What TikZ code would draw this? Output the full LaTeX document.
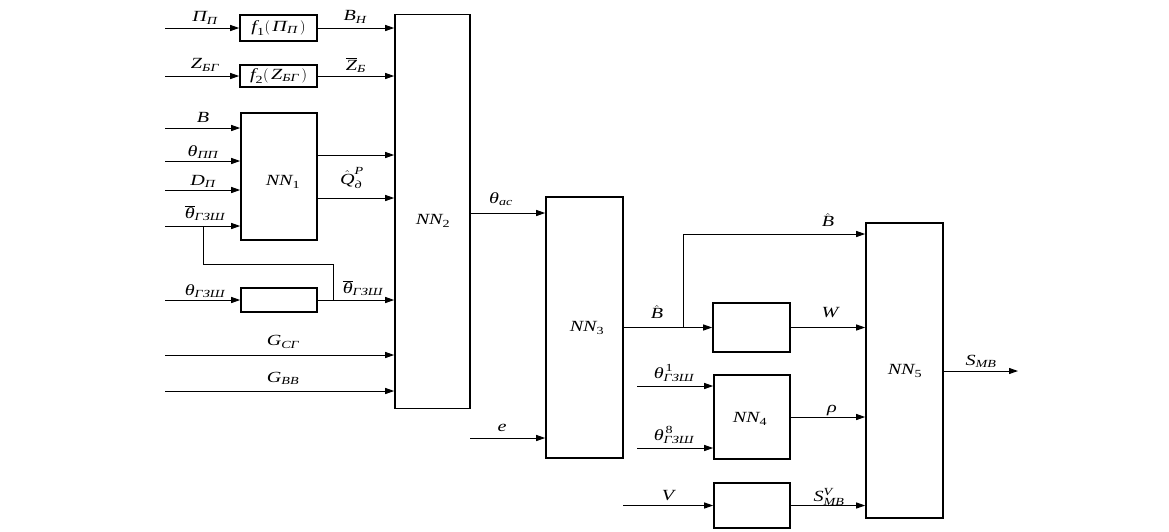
\documentclass[tikz,border=0pt]{standalone}
\usepackage{amsmath}
\usepackage{fontspec}
\setmainfont[FakeStretch=1.3]{Liberation Serif}
\usetikzlibrary{arrows.meta}
\newcommand{\ti}[1]{\textit{#1}}
\newcommand{\tu}[1]{\textup{#1}}
\newcommand{\lblfont}{\fontsize{15.5}{18}\selectfont}
\begin{document}
\begin{tikzpicture}[x=1pt,y=-1pt,
  blk/.style={draw,line width=1.6pt,inner sep=0pt,font=\lblfont},
  arr/.style={line width=1pt,-{Triangle[length=9pt,width=6pt]}},
  wire/.style={line width=1pt},
  lab/.style={font=\lblfont,inner sep=0pt}]
\useasboundingbox (0,0) rectangle (1169,531);
% blocks
\node[blk,minimum width=77pt,minimum height=26pt] (f1) at (278.5,28) {$\ti{f}_{\tu{1}}(\,\ti{П}_{\ti{П}}\,)$};
\node[blk,minimum width=77pt,minimum height=22pt] (f2) at (278.5,76) {$\ti{f}_{\tu{2}}(\,\ti{Z}_{\ti{БГ}}\,)$};
\node[blk,minimum width=76pt,minimum height=127pt] (nn1) at (279,176.5) {};
\node[lab] (nn1lab) at (283,182) {$\ti{NN}_{\tu{1}}$};
\node[blk,minimum width=76pt,minimum height=24pt] (g) at (279,300) {};
\node[blk,minimum width=75pt,minimum height=394pt] (nn2) at (432.5,211.5) {};
\node[lab] (nn2lab) at (433,221) {$\ti{NN}_{\tu{2}}$};
\node[blk,minimum width=77pt,minimum height=261pt] (nn3) at (584.5,327.5) {};
\node[lab] (nn3lab) at (587,328) {$\ti{NN}_{\tu{3}}$};
\node[blk,minimum width=77pt,minimum height=49pt] (boxw) at (751.5,327.5) {};
\node[blk,minimum width=76pt,minimum height=84pt] (nn4) at (752,417) {};
\node[lab] (nn4lab) at (750,419) {$\ti{NN}_{\tu{4}}$};
\node[blk,minimum width=76pt,minimum height=45pt] (boxv) at (752,505.5) {};
\node[blk,minimum width=77pt,minimum height=295pt] (nn5) at (904.5,370.5) {};
\node[lab] (nn5lab) at (905,371) {$\ti{NN}_{\tu{5}}$};
% helper coordinates
\coordinate (iPi) at (165,28);
\coordinate (iZ) at (165,76);
\coordinate (iB) at (165,128);
\coordinate (iT) at (165,161);
\coordinate (iD) at (165,190);
\coordinate (iTb) at (165,226);
\coordinate (br1) at (203,226);
\coordinate (br2) at (333,300);
\coordinate (iTg) at (165,300);
\coordinate (q1) at (0,155);
\coordinate (q2) at (0,198);
\coordinate (iG1) at (165,355);
\coordinate (iG2) at (165,391);
\coordinate (yac) at (0,213);
\coordinate (ie) at (470,438);
\coordinate (br3) at (683,327.5);
\coordinate (yB) at (0,234);
\coordinate (it1) at (637,386);
\coordinate (it8) at (637,448);
\coordinate (iV) at (623,505.5);
\coordinate (oS) at (1018,371);
% connectors
\draw[arr] (iPi) -- (f1.west);
\draw[arr] (f1.east) -- (f1.east -| nn2.west);
\draw[arr] (iZ) -- (f2.west);
\draw[arr] (f2.east) -- (f2.east -| nn2.west);
\draw[arr] (iB) -- (iB -| nn1.west);
\draw[arr] (iT) -- (iT -| nn1.west);
\draw[arr] (iD) -- (iD -| nn1.west);
\draw[arr] (iTb) -- (iTb -| nn1.west);
\draw[wire] (br1) -- ++(0,38) -| (br2);
\draw[arr] (iTg) -- (g.west);
\draw[arr] (g.east) -- (g.east -| nn2.west);
\draw[arr] (nn1.east |- q1) -- (nn2.west |- q1);
\draw[arr] (nn1.east |- q2) -- (nn2.west |- q2);
\draw[arr] (iG1) -- (iG1 -| nn2.west);
\draw[arr] (iG2) -- (iG2 -| nn2.west);
\draw[arr] (nn2.east |- yac) -- (nn3.west |- yac);
\draw[arr] (ie) -- (ie -| nn3.west);
\draw[arr] (nn3.east |- boxw.west) -- (boxw.west);
\draw[arr] (br3) |- (nn5.west |- yB);
\draw[arr] (boxw.east) -- (boxw.east -| nn5.west);
\draw[arr] (it1) -- (it1 -| nn4.west);
\draw[arr] (it8) -- (it8 -| nn4.west);
\draw[arr] (nn4.east) -- (nn4.east -| nn5.west);
\draw[arr] (iV) -- (boxv.west);
\draw[arr] (boxv.east) -- (boxv.east -| nn5.west);
\draw[arr] (nn5.east |- oS) -- (oS);
% labels
\node[lab] (lPi) at (205,18) {$\ti{П}_{\ti{П}}$};
\node[lab] (lBH) at (355,17) {$\ti{B}_{\ti{Н}}$};
\node[lab] (lZ) at (205,65) {$\ti{Z}_{\ti{БГ}}$};
\node[lab] (lZb) at (356,65) {$\overline{\ti{Z}}_{\ti{Б}}$};
\node[lab] (lB) at (203,117) {$\ti{B}$};
\node[lab] (lTpp) at (203,152) {$\ti{θ}_{\ti{ПП}}$};
\node[lab] (lD) at (203,181) {$\ti{D}_{\ti{П}}$};
\node[lab] (lTb) at (205,213) {$\overline{\ti{θ}}_{\ti{ГЗШ}}$};
\node[lab] (lQ) at (352,178) {$\hat{\ti{Q}}^{\ti{Р}}_{\ti{д}}$};
\node[lab] (lTg) at (205,291) {$\ti{θ}_{\ti{ГЗШ}}$};
\node[lab] (lTgb) at (363,288) {$\overline{\ti{θ}}_{\ti{ГЗШ}}$};
\node[lab] (lG1) at (283,342) {$\ti{G}_{\ti{СГ}}$};
\node[lab] (lG2) at (283,378) {$\ti{G}_{\ti{ВВ}}$};
\node[lab] (lac) at (501,199) {$\ti{θ}_{\ti{ac}}$};
\node[lab] (le) at (502,428) {$\ti{e}$};
\node[lab] (lBh1) at (828,220) {$\hat{\ti{B}}$};
\node[lab] (lBh2) at (657,312) {$\hat{\ti{B}}$};
\node[lab] (lW) at (830,313) {$\ti{W}$};
\node[lab] (lT1) at (674,373) {$\ti{θ}^{\,\tu{1}}_{\ti{ГЗШ}}$};
\node[lab] (lT8) at (674,435) {$\ti{θ}^{\,\tu{8}}_{\ti{ГЗШ}}$};
\node[lab] (lrho) at (832,411) {$\ti{ρ}$};
\node[lab] (lV) at (668,496) {$\ti{V}$};
\node[lab] (lSV) at (829,497) {$\ti{S}^{\ti{V}}_{\ti{МВ}}$};
\node[lab] (lS) at (981,361) {$\ti{S}_{\ti{МВ}}$};
\end{tikzpicture}
\end{document}
